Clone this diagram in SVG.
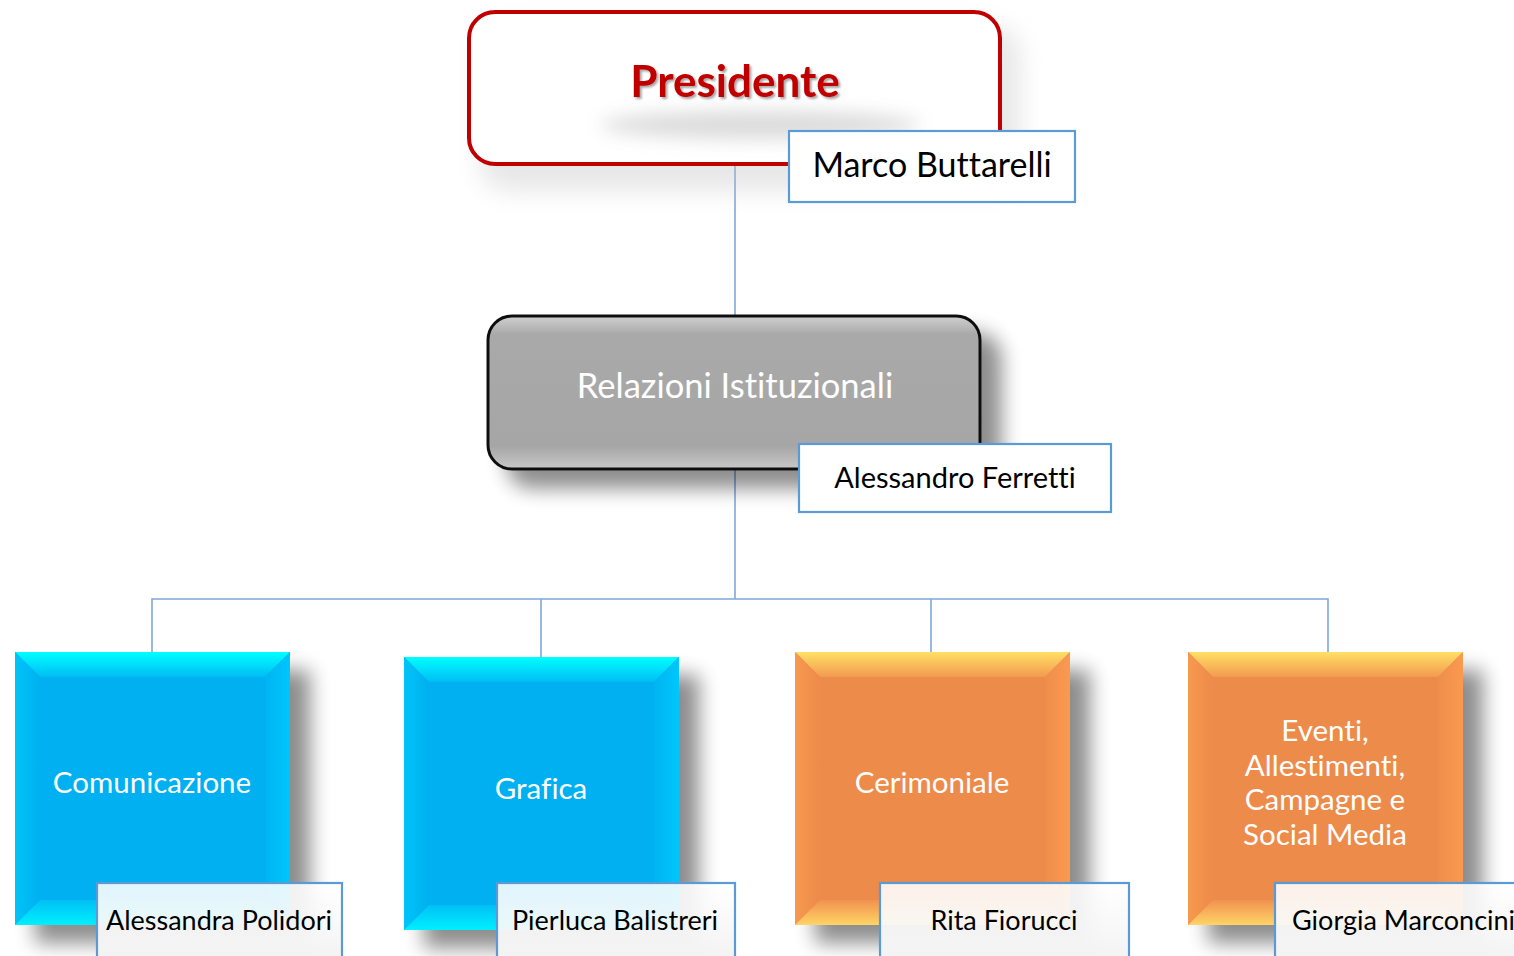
<svg xmlns="http://www.w3.org/2000/svg" width="1514" height="956" viewBox="0 0 1514 956">
<style>
text{font-variant-ligatures:none}
.conn{stroke:#7fa8dc;stroke-width:1.6;fill:none}
.lbl{fill:#ffffff;stroke:#5b9bd5;stroke-width:2.2}
.nm{font-family:Lato,"Liberation Sans",sans-serif;fill:#000}
.wt{font-family:Lato,"Liberation Sans",sans-serif;fill:#fff}
</style>
<defs>
<filter id="sh" x="-20%" y="-20%" width="150%" height="150%">
<feGaussianBlur in="SourceAlpha" stdDeviation="10"/>
<feOffset dx="20" dy="18"/>
<feComponentTransfer><feFuncA type="linear" slope="0.45"/></feComponentTransfer>
<feMerge><feMergeNode/><feMergeNode in="SourceGraphic"/></feMerge>
</filter>
<filter id="blur" x="-30%" y="-50%" width="160%" height="200%"><feGaussianBlur stdDeviation="12"/></filter>
<filter id="blur2" x="-30%" y="-100%" width="160%" height="300%"><feGaussianBlur stdDeviation="9"/></filter>
<filter id="tsh" x="-10%" y="-20%" width="130%" height="150%">
<feGaussianBlur in="SourceAlpha" stdDeviation="1.2"/><feOffset dx="2" dy="2"/>
<feComponentTransfer><feFuncA type="linear" slope="0.35"/></feComponentTransfer>
<feMerge><feMergeNode/><feMergeNode in="SourceGraphic"/></feMerge>
</filter>
<linearGradient id="grayG" x1="0" y1="0" x2="0" y2="1">
<stop offset="0" stop-color="#d0d0d0"/><stop offset="0.12" stop-color="#a9a9a9"/><stop offset="0.85" stop-color="#a6a6a6"/><stop offset="1" stop-color="#c8c8c8"/>
</linearGradient>
<linearGradient id="cTop" x1="0" y1="0" x2="0" y2="1"><stop offset="0" stop-color="#00ffff"/><stop offset="1" stop-color="#00bdf5"/></linearGradient>
<linearGradient id="cBot" x1="0" y1="0" x2="0" y2="1"><stop offset="0" stop-color="#00c0f5"/><stop offset="1" stop-color="#00f0ff"/></linearGradient>
<linearGradient id="cL" x1="0" y1="0" x2="1" y2="0"><stop offset="0" stop-color="#00c4f8"/><stop offset="1" stop-color="#00b0f0"/></linearGradient>
<linearGradient id="cR" x1="0" y1="0" x2="1" y2="0"><stop offset="0" stop-color="#00b4f2"/><stop offset="1" stop-color="#00c6fb"/></linearGradient>
<linearGradient id="oTop" x1="0" y1="0" x2="0" y2="1"><stop offset="0" stop-color="#ffe066"/><stop offset="1" stop-color="#f39a50"/></linearGradient>
<linearGradient id="oBot" x1="0" y1="0" x2="0" y2="1"><stop offset="0" stop-color="#f09250"/><stop offset="1" stop-color="#ffd466"/></linearGradient>
<linearGradient id="oL" x1="0" y1="0" x2="1" y2="0"><stop offset="0" stop-color="#f7994f"/><stop offset="1" stop-color="#ed8b4b"/></linearGradient>
<linearGradient id="oR" x1="0" y1="0" x2="1" y2="0"><stop offset="0" stop-color="#ef8e4c"/><stop offset="1" stop-color="#fa9a50"/></linearGradient>
<linearGradient id="lblG" x1="0" y1="0" x2="0" y2="1"><stop offset="0" stop-color="#ffffff" stop-opacity="0.88"/><stop offset="1" stop-color="#f2f2f2"/></linearGradient>
</defs>

<g id="connectors">
<line class="conn" x1="735" y1="164" x2="735" y2="318"/>
<line class="conn" x1="735" y1="469" x2="735" y2="599"/>
<polyline class="conn" points="152,652 152,599 1328,599 1328,652"/>
<line class="conn" x1="541" y1="599" x2="541" y2="657"/>
<line class="conn" x1="931" y1="599" x2="931" y2="657"/>
</g>

<g id="presidente">
<rect x="480" y="26" width="540" height="165" rx="28" fill="#bbbbbb" opacity="0.35" filter="url(#blur)"/>
<rect x="469" y="12" width="531" height="152" rx="26" fill="#ffffff" stroke="#c00000" stroke-width="4"/>
<ellipse cx="760" cy="125" rx="160" ry="14" fill="#9a9a9a" opacity="0.35" filter="url(#blur2)"/>
<text x="735" y="97" font-family="Lato,'Liberation Sans',sans-serif" font-size="44" font-weight="bold" fill="#c00000" text-anchor="middle" filter="url(#tsh)">Presidente</text>
</g>
<g id="lbl-buttarelli">
<rect class="lbl" x="789" y="131" width="286" height="71"/>
<text class="nm" x="932" y="177" font-size="34" text-anchor="middle">Marco Buttarelli</text>
</g>

<g id="relazioni">
<rect x="488" y="316" width="492" height="153" rx="24" fill="url(#grayG)" stroke="#111" stroke-width="3" filter="url(#sh)"/>
<text class="wt" x="735" y="398" font-size="34.5" text-anchor="middle">Relazioni Istituzionali</text>
</g>
<g id="lbl-ferretti">
<rect class="lbl" x="799" y="444" width="312" height="68"/>
<text class="nm" x="955" y="488" font-size="29" text-anchor="middle">Alessandro Ferretti</text>
</g>

<g id="comunicazione">
<g filter="url(#sh)">
<rect x="15" y="652" width="275" height="273" fill="#00b0f0"/>
<polygon points="15,652 290,652 265,677 40,677" fill="url(#cTop)"/>
<polygon points="15,652 40,677 40,900 15,925" fill="url(#cL)"/>
<polygon points="290,652 265,677 265,900 290,925" fill="url(#cR)"/>
<polygon points="15,925 40,900 265,900 290,925" fill="url(#cBot)"/>
</g>
<text class="wt" x="152" y="793" font-size="29.5" text-anchor="middle">Comunicazione</text>
</g>

<g id="grafica">
<g filter="url(#sh)">
<rect x="404" y="657" width="275" height="273" fill="#00b0f0"/>
<polygon points="404,657 679,657 654,682 429,682" fill="url(#cTop)"/>
<polygon points="404,657 429,682 429,905 404,930" fill="url(#cL)"/>
<polygon points="679,657 654,682 654,905 679,930" fill="url(#cR)"/>
<polygon points="404,930 429,905 654,905 679,930" fill="url(#cBot)"/>
</g>
<text class="wt" x="541" y="799" font-size="29.5" text-anchor="middle">Grafica</text>
</g>

<g id="cerimoniale">
<g filter="url(#sh)">
<rect x="795" y="652" width="275" height="273" fill="#ed8b4b"/>
<polygon points="795,652 1070,652 1045,677 820,677" fill="url(#oTop)"/>
<polygon points="795,652 820,677 820,900 795,925" fill="url(#oL)"/>
<polygon points="1070,652 1045,677 1045,900 1070,925" fill="url(#oR)"/>
<polygon points="795,925 820,900 1045,900 1070,925" fill="url(#oBot)"/>
</g>
<text class="wt" x="932" y="793" font-size="29.5" text-anchor="middle">Cerimoniale</text>
</g>

<g id="eventi">
<g filter="url(#sh)">
<rect x="1188" y="652" width="275" height="273" fill="#ed8b4b"/>
<polygon points="1188,652 1463,652 1438,677 1213,677" fill="url(#oTop)"/>
<polygon points="1188,652 1213,677 1213,900 1188,925" fill="url(#oL)"/>
<polygon points="1463,652 1438,677 1438,900 1463,925" fill="url(#oR)"/>
<polygon points="1188,925 1213,900 1438,900 1463,925" fill="url(#oBot)"/>
</g>
<text class="wt" font-size="29.5" text-anchor="middle"><tspan x="1325" y="741">Eventi,</tspan><tspan x="1325" y="776">Allestimenti,</tspan><tspan x="1325" y="810">Campagne e</tspan><tspan x="1325" y="845">Social Media</tspan></text>
</g>

<g id="lbl-polidori">
<rect x="97" y="883" width="245" height="80" fill="url(#lblG)" stroke="#5b9bd5" stroke-width="2.2"/>
<text class="nm" x="219" y="930" font-size="27" text-anchor="middle">Alessandra Polidori</text>
</g>
<g id="lbl-balistreri">
<rect x="497" y="883" width="238" height="80" fill="url(#lblG)" stroke="#5b9bd5" stroke-width="2.2"/>
<text class="nm" x="615" y="930" font-size="27" text-anchor="middle">Pierluca Balistreri</text>
</g>
<g id="lbl-fiorucci">
<rect x="880" y="883" width="249" height="80" fill="url(#lblG)" stroke="#5b9bd5" stroke-width="2.2"/>
<text class="nm" x="1004" y="930" font-size="27" text-anchor="middle">Rita Fiorucci</text>
</g>
<g id="lbl-marconcini">
<rect x="1275" y="883" width="260" height="80" fill="url(#lblG)" stroke="#5b9bd5" stroke-width="2.2"/>
<text class="nm" x="1292" y="930" font-size="27" text-anchor="start">Giorgia Marconcini</text>
</g>
</svg>
